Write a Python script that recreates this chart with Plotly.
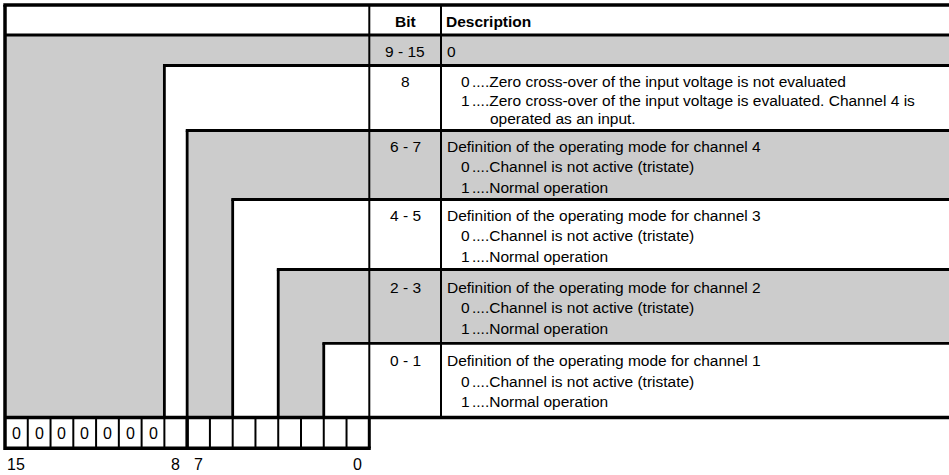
import plotly.graph_objects as go

# ---------------- data ----------------
bit_ranges = ["9 - 15", "8", "6 - 7", "4 - 5", "2 - 3", "0 - 1"]
range_high_bit = [15, 8, 7, 5, 3, 1]
row_shaded = [True, False, True, False, True, False]
row_title = ["0", None,
             "Definition of the operating mode for channel 4",
             "Definition of the operating mode for channel 3",
             "Definition of the operating mode for channel 2",
             "Definition of the operating mode for channel 1"]
row_options = [
    [],
    [("0", ["Zero cross-over of the input voltage is not evaluated"]),
     ("1", ["Zero cross-over of the input voltage is evaluated. Channel 4 is",
            "operated as an input."])],
    [("0", ["Channel is not active (tristate)"]), ("1", ["Normal operation"])],
    [("0", ["Channel is not active (tristate)"]), ("1", ["Normal operation"])],
    [("0", ["Channel is not active (tristate)"]), ("1", ["Normal operation"])],
    [("0", ["Channel is not active (tristate)"]), ("1", ["Normal operation"])],
]
header_labels = ["Bit", "Description"]
bit_values = ["0", "0", "0", "0", "0", "0", "0", "", "", "", "", "", "", "", "", ""]  # bit 15 .. 0
bit_axis_labels = {15: "15", 8: "8", 7: "7", 0: "0"}

# ---------------- layout constants ----------------
W, H = 949, 475
GREY = "#cccccc"
FONT = "Liberation Sans, Arial, sans-serif"
FS = 15.5
x_left = 5.0
x_bitcol = 369.3
x_desccol = 441.0
x_right = 949.0
cell_w = (x_bitcol - x_left) / 16
y_top = 5.0
y_header = 35.0
row_heights = [30.5, 65.0, 69.0, 70.0, 73.8, 74.2]
y_cells_bot = 448.3

row_tops = [y_header]
for h in row_heights:
    row_tops.append(row_tops[-1] + h)
y_table_bot = row_tops[-1]


def bit_left(b):
    return x_left + (15 - b) * cell_w


shapes = []
annotations = []


def rect(x0, y0, x1, y1, color):
    shapes.append(dict(type="rect", xref="x", yref="y", x0=x0, y0=y0, x1=x1, y1=y1,
                       fillcolor=color, line=dict(width=0), layer="below"))


def line(x0, y0, x1, y1, w):
    shapes.append(dict(type="line", xref="x", yref="y", x0=x0, y0=y0, x1=x1, y1=y1,
                       line=dict(color="black", width=w)))


def text(x, y, s, anchor="left", bold=False, size=FS):
    annotations.append(dict(x=x, y=y, xref="x", yref="y", text=("<b>%s</b>" % s) if bold else s,
                            showarrow=False, xanchor=anchor, yanchor="middle",
                            borderpad=0, borderwidth=0,
                            font=dict(family=FONT, size=size, color="black")))


# fills (nested regions)
rect(x_left, y_top, x_right, y_header, "white")
for i, hb in enumerate(range_high_bit):
    rect(bit_left(hb), row_tops[i], x_right, y_table_bot, GREY if row_shaded[i] else "white")
rect(x_left, y_table_bot, x_bitcol, y_cells_bot, "white")

# lines
line(x_left - 1.7, y_top, x_right, y_top, 3.5)
line(x_left, y_top, x_left, y_cells_bot + 1.7, 3.5)
line(x_left, y_header, x_right, y_header, 3)
line(x_bitcol, y_top, x_bitcol, y_table_bot, 2)
line(x_desccol, y_top, x_desccol, y_table_bot, 2)
for i in range(1, len(range_high_bit)):
    xl = bit_left(range_high_bit[i])
    line(xl - 1.4, row_tops[i], x_right, row_tops[i], 2.8)
    line(xl, row_tops[i], xl, y_table_bot, 2.8)
line(x_left, y_table_bot, x_right, y_table_bot, 3.5)
line(x_left, y_cells_bot, x_bitcol + 1.5, y_cells_bot, 3.5)
line(x_bitcol, y_table_bot, x_bitcol, y_cells_bot, 3)
for k in range(1, 16):
    xk = x_left + k * cell_w
    line(xk, y_table_bot, xk, y_cells_bot, 3.5 if k == 8 else 2)

# header text
text((x_bitcol + x_desccol) / 2, (y_top + y_header) / 2 + 1, header_labels[0], "center", True)
text(x_desccol + 5, (y_top + y_header) / 2 + 1, header_labels[1], "left", True)

# row text
x_title = x_desccol + 5.5
x_opt = 460.5
x_dots = 472.0
x_opt_text = 489.5
for i, br in enumerate(bit_ranges):
    top = row_tops[i]
    if i == 0:
        yc = top + row_heights[0] / 2 + 1
        text((x_bitcol + x_desccol) / 2, yc, br, "center")
        text(x_title, yc, row_title[i])
        continue
    first = top + (15.5 if row_heights[i] < 72 else 17.5)
    text((x_bitcol + x_desccol) / 2, first, br, "center")
    y = first
    step = 19.0
    if row_title[i] is not None:
        text(x_title, y, row_title[i])
        y += 20.5
        step = 20.5
    for val, lines_ in row_options[i]:
        text(x_opt, y, val, "left")
        for j, ln in enumerate(lines_):
            if j == 0:
                text(x_dots, y, "...." + ln, "left")
            else:
                text(x_opt_text, y, ln, "left")
            y += 18.7 if j < len(lines_) - 1 else step

# bit cells
for k, v in enumerate(bit_values):
    b = 15 - k
    cx = bit_left(b) + cell_w / 2
    if v:
        text(cx, (y_table_bot + y_cells_bot) / 2 + 0.5, v, "center", size=16)
    if b in bit_axis_labels:
        text(cx, 464, bit_axis_labels[b], "center", size=16)

fig = go.Figure()
fig.add_trace(go.Scatter(x=[0, W], y=[0, H], mode="markers", marker=dict(opacity=0),
                         hoverinfo="skip", showlegend=False))
fig.update_layout(width=W, height=H, margin=dict(l=0, r=0, t=0, b=0),
                  paper_bgcolor="white", plot_bgcolor="white",
                  xaxis=dict(range=[0, W], visible=False, fixedrange=True),
                  yaxis=dict(range=[H, 0], visible=False, fixedrange=True),
                  shapes=shapes, annotations=annotations)
fig.write_html("out.html", config={"displayModeBar": False},
               post_script="document.body.style.margin='0';document.body.style.overflow='hidden';")
